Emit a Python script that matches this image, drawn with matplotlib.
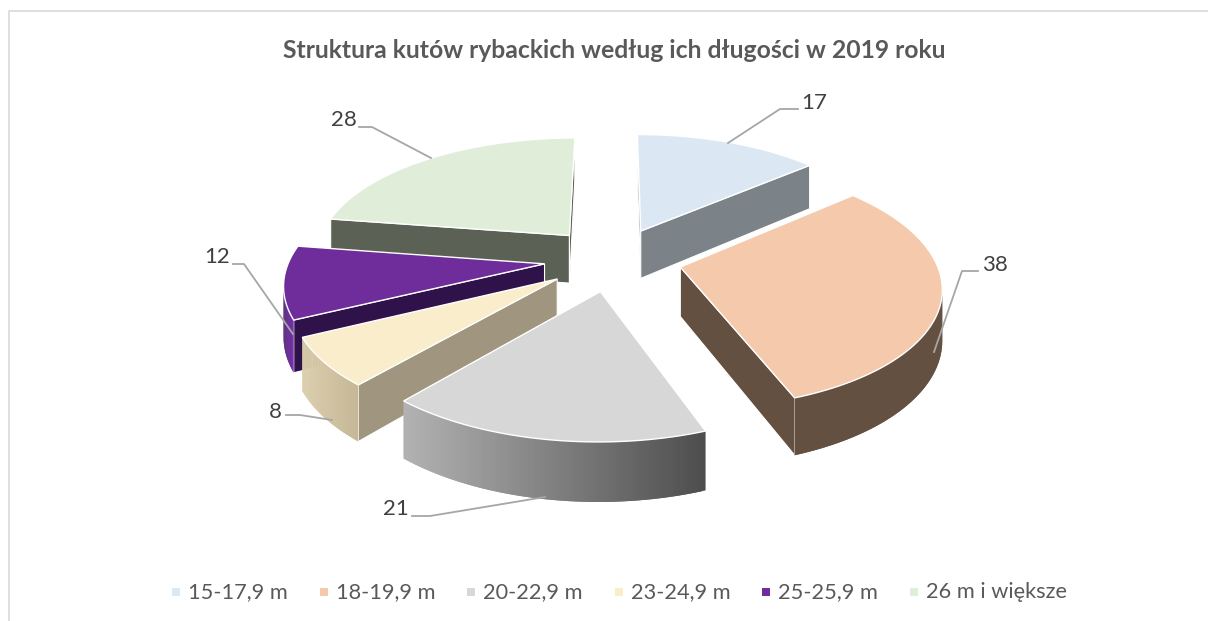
import numpy as np
import matplotlib
matplotlib.use("Agg")
import matplotlib.pyplot as plt
from matplotlib.colors import to_rgb
from matplotlib.patches import Polygon, Rectangle

plt.rcParams['font.family'] = ['Lato', 'DejaVu Sans']

title = "Struktura kutów rybackich według ich długości w 2019 roku"
categories = ["15-17,9 m", "18-19,9 m", "20-22,9 m", "23-24,9 m", "25-25,9 m", "26 m i większe"]
values = [17, 38, 21, 8, 12, 28]

top_colors = ["#DCE7F4", "#F5C9AC", "#D7D7D7", "#FAEDCB", "#6F2D9C", "#E0EDD8"]
wall_colors = ["#7B8288", "#645041", "#6E6E6E", "#A09680", "#30124A", "#5B6154"]
arc_left = ["#7B8288", "#645041", "#B2B2B2", "#DCCFAE", "#4F1F75", "#5B6154"]
arc_right = ["#7B8288", "#645041", "#4E4E4E", "#C6B896", "#7A35AC", "#5B6154"]

# pie geometry, in pixels of the picture
cx, cy = 613, 259
rx, ry = 255, 118
persp = 0.145
explode = 0.27
height = 49

# where each value label and its leader line sit
label_xy = [(814, 103), (995, 265), (396, 509), (275, 412), (217, 257), (344, 120)]
leaders = [
    [(798, 109), (780, 109), (728, 143)],
    [(978, 271), (962, 271), (934, 352)],
    [(412, 516), (430, 516), (545, 497)],
    [(286, 415), (300, 415), (332, 420)],
    [(233, 264), (244, 264), (293, 334)],
    [(359, 127), (372, 127), (431, 158)],
]
legend_swatch_x = [172, 320, 467, 615, 762, 910]


def project(angle, r, mid, z=0):
    # angle clockwise from the back of the pie, degrees
    a = np.radians(angle)
    m = np.radians(mid)
    u = r * np.sin(a) + explode * np.sin(m)
    v = r * np.cos(a) + explode * np.cos(m)
    w = 1 + persp * v
    return cx + rx * u / w, cy + (-ry * v + z) / w


def lerp(c1, c2, t):
    a, b = np.array(to_rgb(c1)), np.array(to_rgb(c2))
    return tuple(a + (b - a) * t)


fig = plt.figure(figsize=(12.08, 6.21), dpi=100)
ax = fig.add_axes([0, 0, 1, 1])
ax.set_xlim(0, 1208)
ax.set_ylim(621, 0)
ax.axis("off")

# frame of the chart
ax.plot([9, 9, 1208], [621, 11, 11], color="#D9D9D9", lw=1.2)

total = sum(values)
edges = np.concatenate([[0], np.cumsum(values)]) * 360 / total

# back slices first
order = [5, 0, 4, 1, 3, 2]
for i in order:
    start, end = edges[i], edges[i + 1]
    mid = (start + end) / 2
    angles = np.linspace(start, end, 80)
    rim = np.array([project(a, 1, mid) for a in angles])
    rim_low = np.array([project(a, 1, mid, height) for a in angles])
    apex = project(mid, 0, mid)
    apex_low = project(mid, 0, mid, height)

    # radial walls, only where they face the viewer
    for p, p_low, q, q_low in [(apex, apex_low, rim[0], rim_low[0]),
                               (rim[-1], rim_low[-1], apex, apex_low)]:
        if q[0] < p[0]:
            ax.add_patch(Polygon([p, q, q_low, p_low], closed=True, fc=wall_colors[i],
                                 ec="white", lw=0.8, zorder=2 + order.index(i)))

    # outer side, cut in small strips for the gradient
    front = [k for k in range(len(angles) - 1) if rim[k + 1][0] < rim[k][0]]
    if front:
        xmin, xmax = rim[front, 0].min(), rim[front, 0].max()
        for k in front:
            t = (rim[k][0] - xmin) / max(xmax - xmin, 1)
            col = lerp(arc_left[i], arc_right[i], t)
            # strips overlap the next one so no seams show
            n = min(k + 2, front[-1] + 1)
            ax.add_patch(Polygon([rim[k], rim[n], rim_low[n], rim_low[k]], closed=True,
                                 fc=col, ec="none", zorder=2 + order.index(i)))

    top = np.vstack([[apex], rim])
    ax.add_patch(Polygon(top, closed=True, fc=top_colors[i], ec="white", lw=1.0,
                         zorder=2 + order.index(i)))

# value labels and leader lines
for i, v in enumerate(values):
    line = np.array(leaders[i])
    ax.plot(line[:, 0], line[:, 1], color="#A6A6A6", lw=1.3, zorder=20)
    ax.text(label_xy[i][0], label_xy[i][1], str(v), fontsize=16, color="#404040",
            ha="center", va="center", zorder=21)

ax.text(614, 51, title, fontsize=17.8, fontweight="bold", color="#595959",
        ha="center", va="center")

# legend
for i, name in enumerate(categories):
    x = legend_swatch_x[i]
    ax.add_patch(Rectangle((x, 588), 8, 8, fc=top_colors[i], ec="none"))
    ax.text(x + 16, 592.5, name, fontsize=15.7, color="#595959", ha="left", va="center")

fig.savefig("out.png", dpi=100)
